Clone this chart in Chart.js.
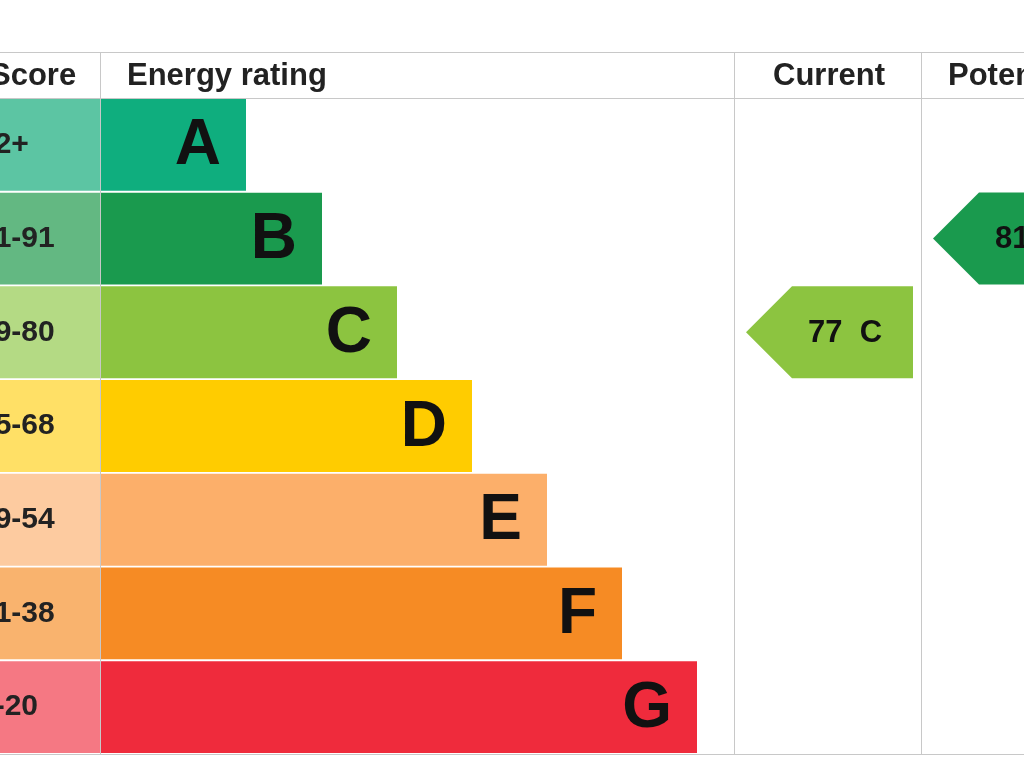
<!DOCTYPE html>
<html><head><meta charset="utf-8">
<script src="https://cdn.jsdelivr.net/npm/chart.js@4"></script>
<style>html,body{margin:0;padding:0;background:#fff}#w{width:1024px;height:768px}</style>
</head><body><div id="w"><canvas id="c" width="1024" height="768"></canvas></div>
<script>
const bandLetters=['A','B','C','D','E','F','G'];
const bandScores=['92+','81-91','69-80','55-68','39-54','21-38','1-20'];
const bandLengths=[145,221,296,371,446,521,596];
const bandColors=['#0fae7e','#1a9a4e','#8cc440','#ffcc00','#fcaf6a','#f68b24','#ef2b3c'];
const scoreColors=['#5cc5a3','#63b882','#b4da84','#ffe066','#fdcba0','#f9b36e','#f57883'];
const currentValue=77, currentBand='C';
const potentialValue=81, potentialBand='B';
const columnEdges=[634,821]; // x values of column dividers (scale units)

const plug={id:'epc',afterDraw(ch){
 const c=ch.ctx,x=ch.scales.x,y=ch.scales.y;
 const top=52,hb=98,bot=754;
 c.save();
 c.strokeStyle='#c8c8c8';c.lineWidth=1;
 c.beginPath();c.moveTo(0,top+.5);c.lineTo(1024,top+.5);c.moveTo(0,hb+.5);c.lineTo(1024,hb+.5);
 c.moveTo(0,bot+.5);c.lineTo(1024,bot+.5);
 [0,...columnEdges].forEach(v=>{const p=Math.round(x.getPixelForValue(v))-.5;c.moveTo(p,top);c.lineTo(p,bot);});
 c.stroke();
 c.fillStyle='#222';c.font='bold 31px "Liberation Sans",Arial';c.textBaseline='middle';
 c.textAlign='left';c.fillText('Score',-10,76);c.fillText('Energy rating',127,76);c.fillText('Potential',948,76);
 c.textAlign='center';c.fillText('Current',829,76);
 bandLetters.forEach((l,i)=>{const yy=y.getPixelForValue(i);
  c.fillStyle='#111';c.textAlign='right';c.font='bold 64px "Liberation Sans",Arial';
  c.fillText(l,x.getPixelForValue(bandLengths[i])-25,yy+2);
  c.textAlign='left';c.font='bold 30px "Liberation Sans",Arial';c.fillStyle='#222';
  c.fillText(bandScores[i],-22,yy);});
 function arrow(v,b,x0,x1){const i=bandLetters.indexOf(b);const yy=y.getPixelForValue(i);const h=46;
  c.fillStyle=bandColors[i];c.beginPath();c.moveTo(x0,yy);c.lineTo(x0+46,yy-h);c.lineTo(x1,yy-h);c.lineTo(x1,yy+h);c.lineTo(x0+46,yy+h);c.closePath();c.fill();
  c.fillStyle='#111';c.font='bold 31px "Liberation Sans",Arial';c.textAlign='center';c.fillText(v+'  '+b,x0+99,yy+1);}
 const e0=x.getPixelForValue(columnEdges[0]),e1=x.getPixelForValue(columnEdges[1]);
 arrow(currentValue,currentBand,e0+11,e1-9);
 arrow(potentialValue,potentialBand,e1+11,e1+200);
 c.restore();}};

new Chart(document.getElementById('c'),{type:'bar',
 data:{labels:bandLetters,datasets:[
  {data:bandLengths.map(v=>[0,v]),backgroundColor:bandColors,grouped:false,barPercentage:1,categoryPercentage:0.98},
  {data:bandLengths.map(()=>[-101,-1]),backgroundColor:scoreColors,grouped:false,barPercentage:1,categoryPercentage:0.98}]},
 options:{indexAxis:'y',responsive:false,animation:false,
  layout:{padding:{top:98,bottom:14,left:0,right:0}},
  plugins:{legend:{display:false},tooltip:{enabled:false}},
  scales:{x:{type:'linear',min:-101,max:923,display:false},y:{display:false}}},
 plugins:[plug]});
</script></body></html>
